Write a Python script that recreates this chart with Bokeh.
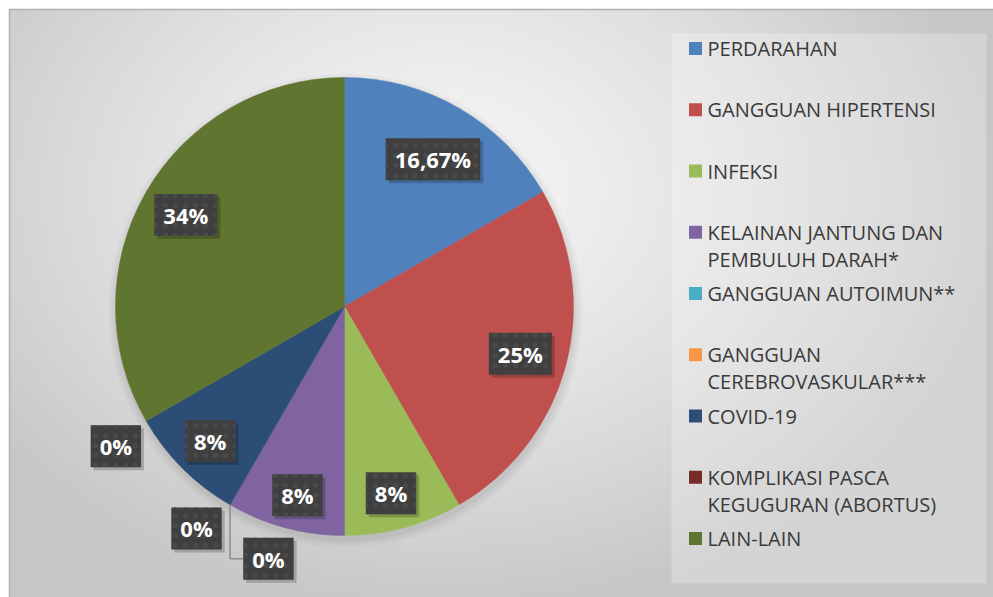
import numpy as np
from bokeh.plotting import figure
from bokeh.models import Range1d, ColumnDataSource
from bokeh.core.properties import value
from bokeh.embed import file_html
from bokeh.resources import INLINE

# ---------------- data ----------------
categories = [
    "PERDARAHAN",
    "GANGGUAN HIPERTENSI",
    "INFEKSI",
    "KELAINAN JANTUNG DAN PEMBULUH DARAH*",
    "GANGGUAN AUTOIMUN**",
    "GANGGUAN CEREBROVASKULAR***",
    "COVID-19",
    "KOMPLIKASI PASCA KEGUGURAN (ABORTUS)",
    "LAIN-LAIN",
]
legend_lines = [
    ["PERDARAHAN"],
    ["GANGGUAN HIPERTENSI"],
    ["INFEKSI"],
    ["KELAINAN JANTUNG DAN", "PEMBULUH DARAH*"],
    ["GANGGUAN AUTOIMUN**"],
    ["GANGGUAN", "CEREBROVASKULAR***"],
    ["COVID-19"],
    ["KOMPLIKASI PASCA", "KEGUGURAN (ABORTUS)"],
    ["LAIN-LAIN"],
]
values = [16.67, 25.0, 8.33, 8.33, 0.0, 0.0, 8.33, 0.0, 33.34]
value_labels = ["16,67%", "25%", "8%", "8%", "0%", "0%", "8%", "0%", "34%"]
colors = ["#4F81BD", "#C0504D", "#9BBB59", "#8064A2", "#4BACC6",
          "#F79646", "#2C4D75", "#772C2A", "#5F7530"]

# ---------------- layout (pixels, y measured from top) ----------------
W, H = 993, 597
CX, CY_TOP, R = 344, 306, 229
def Y(ytop):
    return H - ytop

# label placement per slice: (radius factor, angle nudge in degrees)
label_place = [(0.75, 1), (0.795, 0), (0.84, 1), (0.85, -1), (1.15, -13.2),
               (1.165, 3.7), (0.83, 0), (1.17, -1.4), (0.80, 0)]

p = figure(width=W, height=H, output_backend="svg", toolbar_location=None,
           x_range=Range1d(0, W), y_range=Range1d(0, H), min_border=0,
           background_fill_color="white", border_fill_color="white")
p.axis.visible = False
p.grid.visible = False
p.outline_line_color = None

# background radial gradient for chart area
x0, y0top = 9, 9
bw, bh = W - x0, H - y0top
sc = 2
nx, ny = bw // sc, bh // sc
xs = (np.arange(nx) + 0.5) * sc + x0
ys_top = H - ((np.arange(ny) + 0.5) * sc)  # row 0 at bottom
XX, YY = np.meshgrid(xs, ys_top)
gx, gy = 440.0, 190.0
d = np.sqrt(((XX - gx) / 560.0) ** 2 + ((YY - gy) / 430.0) ** 2)
t = np.clip(d, 0, 1) ** 1.3
c_in, c_out = 246.0, 198.0
g = (c_in + (c_out - c_in) * t).astype(np.uint32)
img = (255 << 24) | (g << 16) | (g << 8) | g
p.image_rgba(image=[img.astype(np.uint32)], x=x0, y=0, dw=bw, dh=bh)

# frame lines (left and top)
p.line([x0, x0, W], [0, Y(y0top), Y(y0top)], line_color="#b0b0b0", line_width=1.5)

# legend box
LX0, LX1, LY0, LY1 = 671, 986, 33, 583
p.quad(left=LX0, right=LX1, bottom=Y(LY1), top=Y(LY0),
       fill_color="white", fill_alpha=0.25, line_color=None)

# ---------------- pie ----------------
vals = np.array(values, dtype=float)
frac = vals / vals.sum()
cum = np.concatenate([[0], np.cumsum(frac)])
start_cw = cum[:-1] * 2 * np.pi      # clockwise from top
end_cw = cum[1:] * 2 * np.pi
start_ang = np.pi / 2 - start_cw
end_ang = np.pi / 2 - end_cw

# soft shadow under pie
for k, a in [(8, 0.025), (5, 0.03), (2, 0.04)]:
    p.circle(x=CX + 1, y=Y(CY_TOP) - 4, radius=R + k, fill_color="black",
             fill_alpha=a, line_color=None)

nz = vals > 0
pie_src = ColumnDataSource(dict(
    start=list(end_ang[nz]), end=list(start_ang[nz]),
    color=[c for c, z in zip(colors, nz) if z]))
p.wedge(x=CX, y=Y(CY_TOP), radius=R, start_angle="start", end_angle="end",
        fill_color="color", line_color="color", line_width=0.5, source=pie_src)

# ---------------- data labels ----------------
mid = (start_cw + end_cw) / 2
lx, ly = [], []
for i in range(len(values)):
    rf, nud = label_place[i]
    a = mid[i] + np.deg2rad(nud)
    lx.append(CX + rf * R * np.sin(a))
    ly.append(Y(CY_TOP) + rf * R * np.cos(a))

# leader line for the 0% slice pushed down (GANGGUAN AUTOIMUN)
i_l = 4
ex = CX + R * np.sin(start_cw[i_l])
ey = Y(CY_TOP) + R * np.cos(start_cw[i_l])
p.line([ex, ex, lx[i_l] - 25], [ey, ly[i_l], ly[i_l]], line_color="#8c8c8c", line_width=1.5)

lab_src = ColumnDataSource(dict(x=lx, y=ly, t=value_labels))
# shadow
p.text(x="x", y="y", text="t", source=lab_src, x_offset=3, y_offset=3,
       text_font=value("Open Sans"), text_font_style="bold", text_font_size="22px",
       text_align="center", text_baseline="middle", text_alpha=0,
       background_fill_color="black", background_fill_alpha=0.2, padding=(9, 6))
p.text(x="x", y="y", text="t", source=lab_src,
       text_font=value("Open Sans"), text_font_style="bold", text_font_size="22px",
       text_align="center", text_baseline="middle", text_color="white",
       background_fill_color="#3f3f3f", padding=(9, 6),
       background_hatch_pattern="dot", background_hatch_color="#4a4a4a",
       background_hatch_scale=10, background_hatch_weight=1.2)

# ---------------- legend ----------------
first_y = 48.0
step = 61.25
sq_x, sq_s = 695, 13
txt_x = 707
line_gap = 27
sq_y, tx, ty, tt = [], [], [], []
for k, lines in enumerate(legend_lines):
    yt = first_y + step * k
    sq_y.append(Y(yt))
    for j, ln in enumerate(lines):
        tx.append(txt_x)
        ty.append(Y(yt + j * line_gap))
        tt.append(ln)
p.rect(x=[sq_x] * len(colors), y=sq_y, width=sq_s, height=sq_s,
       fill_color=colors, line_color=None)
p.text(x=tx, y=ty, text=tt, text_font=value("Open Sans"), text_font_size="20px",
       text_color="#3a3a3a", text_baseline="middle", text_align="left")

open("out.html", "w").write(file_html(p, INLINE))
